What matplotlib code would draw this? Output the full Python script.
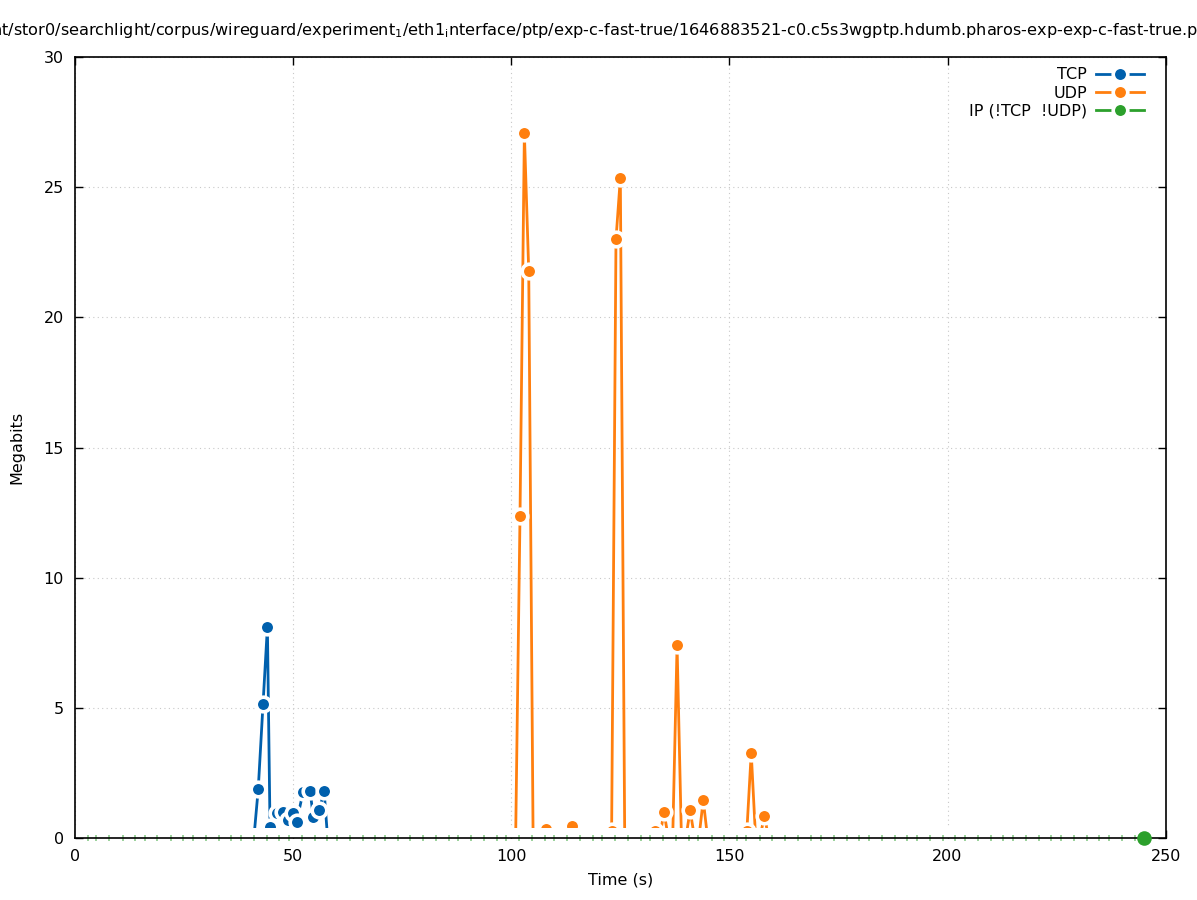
import matplotlib
matplotlib.use("Agg")
import matplotlib.pyplot as plt
from matplotlib.lines import Line2D

# ---------------------------------------------------------------- data
tcp_t = [41.0, 42.0, 43.1, 44.1, 44.7, 46.2, 47.7, 48.9, 50.0, 50.8, 52.3, 53.9, 54.6, 56.0, 57.1, 57.9]
tcp_mb = [0, 1.88, 5.15, 8.10, 0.43, 0.95, 1.00, 0.69, 0.95, 0.63, 1.78, 1.80, 0.82, 1.08, 1.80, 0]

udp_t = [101, 102, 103, 104, 105, 107, 108, 109, 113, 114, 115, 122, 123, 124, 125, 126,
         132, 133, 134, 135, 136, 137, 138, 139, 140, 141, 142, 143, 144, 145,
         153, 154, 155, 156, 157, 158, 159]
udp_mb = [0, 12.37, 27.08, 21.78, 0, 0, 0.35, 0, 0, 0.45, 0, 0, 0.28, 23.0, 25.35, 0,
          0, 0.28, 0, 1.0, 0, 0, 7.41, 0, 0, 1.07, 0, 0, 1.46, 0,
          0, 0.28, 3.27, 0, 0, 0.85, 0]

# IP (!TCP !UDP): flat at zero, only fragments of the line survive, last sample has a point
ip_t = [2.9, 4.9, 7.9, 10.9, 13.8, 16.0, 18.9, 21.9, 24.8, 27.0, 30.0, 32.9, 35.8, 38.0,
        41.0, 43.9, 46.8, 49.0, 52.0, 54.9, 57.8, 60.0, 63.0, 65.9, 68.8, 71.0, 74.0, 76.9,
        79.8, 82.7, 85.8, 87.9, 90.8, 93.8, 96.8, 98.9, 101.8, 104.8, 107.8, 109.9, 112.8,
        115.8, 118.8, 120.9, 123.8, 126.8, 129.8, 131.9, 134.8, 137.8, 140.8, 142.9, 145.9,
        148.8, 151.8, 153.9, 156.9, 159.8, 162.8, 165.8, 168.8, 170.9, 173.9, 176.9, 179.8,
        181.9, 184.9, 187.9, 190.8, 192.9, 195.9, 198.9, 201.8, 203.9, 206.9, 209.9, 212.8,
        214.9, 217.9, 220.9, 223.8, 225.9, 228.9, 231.9, 234.8, 236.9, 239.9, 242.9, 245.1]
ip_mb = [0] * len(ip_t)

labels = ["TCP", "UDP", "IP (!TCP  !UDP)"]
title = (r"/mnt/stor0/searchlight/corpus/wireguard/experiment$_\mathregular{1}$/"
         r"eth1$_\mathregular{i}$nterface/ptp/exp-c-fast-true/"
         r"1646883521-c0.c5s3wgptp.hdumb.pharos-exp-exp-c-fast-true.pcap")

C_TCP = "#0060ad"
C_UDP = "#ff7f0e"
C_IP = "#2ca02c"
FS = 11.5

# ---------------------------------------------------------------- figure
fig = plt.figure(figsize=(11.97, 9.0), dpi=100)
ax = fig.add_axes([75 / 1197, 62 / 900, 1090.7 / 1197, 781 / 900])

pt = dict(lw=2.0, marker="o", ms=10.5, mew=2.6, mec="white")
ax.plot(tcp_t, tcp_mb, color=C_TCP, markevery=[v > 0 for v in tcp_mb], zorder=3, **pt)
ax.plot(udp_t, udp_mb, color=C_UDP, markevery=[v > 0 for v in udp_mb], zorder=3, **pt)

# white strip above the axis (background rings of the zero-level IP points)
ax.axhspan(-1, 0.38, color="white", lw=0, zorder=4)

ax.plot(ip_t[:-1], ip_mb[:-1], ls="none", marker="|", ms=4.5, mew=1.2,
        color=C_IP, alpha=0.55, zorder=5, clip_on=False)
ax.plot(ip_t[-1:], ip_mb[-1:], ls="none", color=C_IP, marker="o", ms=10.5, mew=0,
        zorder=7, clip_on=False)

ax.set_xlim(0, 250)
ax.set_ylim(0, 30)
ax.set_xticks(range(0, 251, 50))
ax.set_yticks(range(0, 31, 5))
ax.tick_params(direction="in", top=True, right=True, length=6, width=1,
               labelsize=FS, pad=8)
ax.grid(True, color="#c8c8c8", lw=0.8, ls=(0, (1, 3)))
for s in ax.spines.values():
    s.set_linewidth(1.2)
    s.set_zorder(6)

ax.set_xlabel("Time (s)", fontsize=FS, labelpad=6)
ax.set_ylabel("Megabits", fontsize=FS, labelpad=14)
fig.text(0.5, 1 - 30 / 900, title, ha="center", va="center", fontsize=11.6)

handles = [
    Line2D([], [], color=C_TCP, **pt),
    Line2D([], [], color=C_UDP, **pt),
    Line2D([], [], color=C_IP, **pt),
]
leg = ax.legend(handles, labels, loc="upper right", bbox_to_anchor=(0.9936, 1.005),
                markerfirst=False, fontsize=FS,
                handlelength=3.0, handletextpad=0.6, labelspacing=0.2,
                borderpad=0.5, borderaxespad=0.4, frameon=True, fancybox=False,
                framealpha=1.0, facecolor="white", edgecolor="none")
leg.set_zorder(8)

fig.savefig("out.png", dpi=100)
